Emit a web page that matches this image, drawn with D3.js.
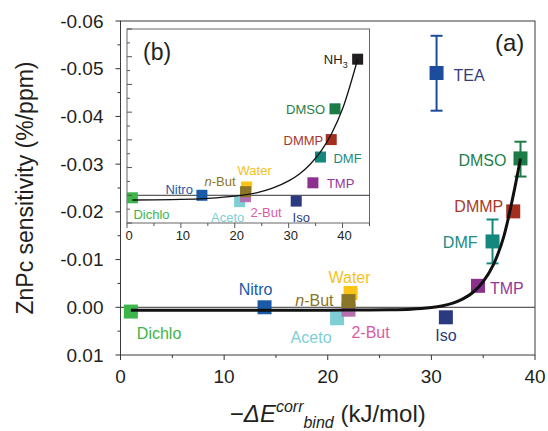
<!DOCTYPE html>
<html lang="en">
  <head>
    <meta charset="UTF-8" />
    <title>ZnPc sensitivity vs binding energy</title>
    <script src="https://d3js.org/d3.v7.min.js"></script>
    <style>
      body {
        margin: 0;
        background: #fff;
        font-family: "Liberation Sans", Arial, sans-serif;
      }
      .frame {
        fill: none;
        stroke: #3a3a3a;
        stroke-width: 1;
      }
      .tick-label {
        fill: #231f20;
      }
    </style>
  </head>
  <body>
    <script>
      // compounds (main panel + inset share these)
      var names = ["Dichlo", "Nitro", "Iso", "TMP", "DMF", "DMMP", "DMSO", "TEA", "Aceto", "2-But", "Water", "n-But"];
      var energy = [1.0, 13.9, 31.4, 34.5, 35.9, 37.9, 38.6, 30.5, 20.9, 22.0, 22.2, 22.0];
      var sensitivity = [0.0009, 0.0, 0.0021, -0.0045, -0.0138, -0.0201, -0.0312, -0.0491, 0.0023, 0.0005, -0.003, -0.0013];
      var markColors = ["#3db54a", "#1b5aa7", "#2b3a80", "#8c308d", "#14887f", "#a3301f", "#1b7d45", "#1d4c9c", "#7ecfd3", "#b370b1", "#fcc414", "#8b7526"];
      var textColors = ["#3db54a", "#1b5aa7", "#2b3a80", "#94379a", "#1a8b85", "#a8392a", "#1f8048", "#333d7a", "#7ecfd3", "#d95ba3", "#f5c21c", "#8b7526"];

      // error bars (lower / upper end)
      var errNames = ["TEA", "DMSO", "DMF"];
      var errLow = [-0.0569, -0.0347, -0.0184];
      var errHigh = [-0.0412, -0.0274, -0.0092];

      // NH3 appears only in the inset
      var nh3Energy = 42.8;
      var nh3Sens = -0.0491;

      // fitted curves
      var fitX = [1, 10, 20, 24, 26, 28, 29, 30, 31, 32, 33, 34, 35, 36, 37, 38, 38.6];
      var fitY = [0.0006, 0.0006, 0.0006, 0.00057, 0.00052, 0.00039, 0.00026, 0.00005, -0.00028, -0.00082, -0.0017, -0.0031, -0.0054, -0.009, -0.0149, -0.0245, -0.0312];
      var insetFitX = [1, 10, 15, 20, 24, 27, 30, 32, 34, 36, 38, 40, 42.8];
      var insetFitY = [0.0017, 0.0015, 0.0011, 0.0003, -0.0009, -0.0026, -0.0052, -0.0077, -0.0112, -0.0159, -0.0224, -0.0312, -0.0491];

      var xTicks = [0, 10, 20, 30, 40];
      var xTickLabels = ["0", "10", "20", "30", "40"];
      var yTicks = [-0.06, -0.05, -0.04, -0.03, -0.02, -0.01, 0, 0.01];
      var yTickLabels = ["-0.06", "-0.05", "-0.04", "-0.03", "-0.02", "-0.01", "0.00", "0.01"];
      var insetXTicks = [0, 10, 20, 30, 40];

      // label placement (offsets from the marker centre)
      var mainLabelPos = {
        Dichlo: [6, 27, "start"],
        Nitro: [-9, -12, "middle"],
        Aceto: [-26, 25, "middle"],
        "2-But": [3, 28, "start"],
        Water: [-1, -10, "middle"],
        "n-But": [-15, 5, "end"],
        Iso: [0, 24, "middle"],
        TMP: [12, 8, "start"],
        DMF: [-15, 7, "end"],
        DMMP: [-10, 1, "end"],
        DMSO: [-14, 8, "end"],
        TEA: [17, 8, "start"],
      };
      var insetLabelPos = {
        Dichlo: [1, 21, "start"],
        Nitro: [-9, -1, "end"],
        Aceto: [-12, 20, "middle"],
        "2-But": [5, 20, "start"],
        Water: [8, -12, "middle"],
        "n-But": [-10, -6, "end"],
        Iso: [5, 21, "middle"],
        TMP: [14, 5, "start"],
        DMF: [13, 6, "start"],
        DMMP: [-8, 5, "end"],
        DMSO: [-10, 5, "end"],
      };

      var width = 548,
        height = 431;

      var svg = d3
        .select("body")
        .append("svg")
        .attr("width", width)
        .attr("height", height);

      var x = d3.scaleLinear().domain([0, 40]).range([120.5, 535]);
      var y = d3.scaleLinear().domain([-0.06, 0.01]).range([21, 355]);

      var ix = d3.scaleLinear().domain([0, 45]).range([127, 369.5]);
      var iy = d3.scaleLinear().domain([-0.06, 0.01]).range([29, 223]);

      var data = names.map(function (n, i) {
        return {
          name: n,
          e: energy[i],
          s: sensitivity[i],
          color: markColors[i],
          text: textColors[i],
        };
      });

      // ---- main panel ----
      svg
        .append("line")
        .attr("x1", x(0))
        .attr("x2", x(40))
        .attr("y1", y(0))
        .attr("y2", y(0))
        .attr("stroke", "#333")
        .attr("stroke-width", 1);

      // error bars
      errNames.forEach(function (n, i) {
        var d = data.find(function (p) {
          return p.name === n;
        });
        var g = svg.append("g").attr("stroke", d.color).attr("stroke-width", 2);
        var cx = x(d.e);
        g.append("line").attr("x1", cx).attr("x2", cx).attr("y1", y(errLow[i])).attr("y2", y(errHigh[i]));
        g.append("line").attr("x1", cx - 6).attr("x2", cx + 6).attr("y1", y(errLow[i])).attr("y2", y(errLow[i]));
        g.append("line").attr("x1", cx - 6).attr("x2", cx + 6).attr("y1", y(errHigh[i])).attr("y2", y(errHigh[i]));
      });

      svg
        .selectAll(".sq")
        .data(data)
        .enter()
        .append("rect")
        .attr("class", "sq")
        .attr("x", function (d) {
          return x(d.e) - 7;
        })
        .attr("y", function (d) {
          return y(d.s) - 7;
        })
        .attr("width", 14)
        .attr("height", 14)
        .attr("fill", function (d) {
          return d.color;
        });

      var line = d3
        .line()
        .x(function (d) {
          return x(d[0]);
        })
        .y(function (d) {
          return y(d[1]);
        })
        .curve(d3.curveMonotoneX);

      svg
        .append("path")
        .attr("d", line(d3.zip(fitX, fitY)))
        .attr("fill", "none")
        .attr("stroke", "#111")
        .attr("stroke-width", 3);

      svg
        .selectAll(".lbl")
        .data(data)
        .enter()
        .append("text")
        .attr("class", "lbl")
        .attr("x", function (d) {
          return x(d.e) + mainLabelPos[d.name][0];
        })
        .attr("y", function (d) {
          return y(d.s) + mainLabelPos[d.name][1];
        })
        .attr("text-anchor", function (d) {
          return mainLabelPos[d.name][2];
        })
        .attr("font-size", 16)
        .attr("fill", function (d) {
          return d.text;
        })
        .each(function (d) {
          var t = d3.select(this);
          if (d.name === "n-But") {
            t.append("tspan").attr("font-style", "italic").text("n");
            t.append("tspan").text("-But");
          } else {
            t.text(d.name);
          }
        });

      // frame
      svg
        .append("rect")
        .attr("class", "frame")
        .attr("x", x(0))
        .attr("y", y(-0.06))
        .attr("width", x(40) - x(0))
        .attr("height", y(0.01) - y(-0.06));

      // y axis, ticks outward
      var yAxis = svg.append("g").attr("transform", "translate(" + x(0) + ",0)");
      yAxis
        .selectAll(".minor")
        .data(d3.range(-0.06, 0.0101, 0.005))
        .enter()
        .append("line")
        .attr("x1", 0)
        .attr("x2", function (d, i) {
          return i % 2 === 0 ? -5 : -3;
        })
        .attr("y1", function (d) {
          return y(d);
        })
        .attr("y2", function (d) {
          return y(d);
        })
        .attr("stroke", "#333");
      yAxis
        .selectAll(".yl")
        .data(yTicks)
        .enter()
        .append("text")
        .attr("class", "tick-label")
        .attr("x", -17)
        .attr("y", function (d) {
          return y(d) + 6.5;
        })
        .attr("text-anchor", "end")
        .attr("font-size", 19)
        .text(function (d, i) {
          return yTickLabels[i];
        });

      // x axis, ticks outward
      var xAxis = svg.append("g").attr("transform", "translate(0," + y(0.01) + ")");
      xAxis
        .selectAll(".minor")
        .data(d3.range(0, 40.1, 5))
        .enter()
        .append("line")
        .attr("y1", 0)
        .attr("y2", function (d, i) {
          return i % 2 === 0 ? 5 : 3;
        })
        .attr("x1", function (d) {
          return x(d);
        })
        .attr("x2", function (d) {
          return x(d);
        })
        .attr("stroke", "#333");
      xAxis
        .selectAll(".xl")
        .data(xTicks)
        .enter()
        .append("text")
        .attr("class", "tick-label")
        .attr("x", function (d) {
          return x(d);
        })
        .attr("y", 28)
        .attr("text-anchor", "middle")
        .attr("font-size", 19)
        .text(function (d, i) {
          return xTickLabels[i];
        });

      // axis titles
      var xt = svg
        .append("text")
        .attr("x", (x(0) + x(40)) / 2)
        .attr("y", 422)
        .attr("text-anchor", "middle")
        .attr("font-size", 24)
        .attr("fill", "#231f20");
      xt.append("tspan").text("\u2212");
      xt.append("tspan").attr("font-style", "italic").text("\u0394E");
      xt.append("tspan").attr("font-style", "italic").attr("font-size", 16).attr("dy", -10).text("corr");
      xt.append("tspan").attr("font-style", "italic").attr("font-size", 16).attr("dy", 16).text("bind");
      xt.append("tspan").attr("dy", -6).text(" (kJ/mol)");

      svg
        .append("text")
        .attr("transform", "translate(33," + (y(-0.06) + y(0.01)) / 2 + ") rotate(-90)")
        .attr("text-anchor", "middle")
        .attr("font-size", 23)
        .attr("fill", "#231f20")
        .text("ZnPc sensitivity (%/ppm)");

      svg
        .append("text")
        .attr("x", 495)
        .attr("y", 51)
        .attr("font-size", 24)
        .attr("fill", "#231f20")
        .text("(a)");

      // ---- inset ----
      var inset = svg.append("g");
      inset
        .append("rect")
        .attr("x", ix(0))
        .attr("y", iy(-0.06))
        .attr("width", ix(45) - ix(0))
        .attr("height", iy(0.01) - iy(-0.06))
        .attr("fill", "#fff")
        .attr("stroke", "#666")
        .attr("stroke-width", 1);

      inset
        .append("line")
        .attr("x1", ix(0))
        .attr("x2", ix(45))
        .attr("y1", iy(0))
        .attr("y2", iy(0))
        .attr("stroke", "#333")
        .attr("stroke-width", 1);

      var insetData = data
        .filter(function (d) {
          return d.name !== "TEA";
        })
        .concat([{ name: "NH3", e: nh3Energy, s: nh3Sens, color: "#231f20", text: "#231f20" }]);

      inset
        .selectAll(".isq")
        .data(insetData)
        .enter()
        .append("rect")
        .attr("x", function (d) {
          return ix(d.e) - 5.5;
        })
        .attr("y", function (d) {
          return iy(d.s) - 5.5;
        })
        .attr("width", 11)
        .attr("height", 11)
        .attr("fill", function (d) {
          return d.color;
        });

      var iline = d3
        .line()
        .x(function (d) {
          return ix(d[0]);
        })
        .y(function (d) {
          return iy(d[1]);
        })
        .curve(d3.curveMonotoneX);

      inset
        .append("path")
        .attr("d", iline(d3.zip(insetFitX, insetFitY)))
        .attr("fill", "none")
        .attr("stroke", "#111")
        .attr("stroke-width", 1.3);

      inset
        .selectAll(".ilbl")
        .data(insetData.filter(function (d) {
          return d.name !== "NH3";
        }))
        .enter()
        .append("text")
        .attr("x", function (d) {
          return ix(d.e) + insetLabelPos[d.name][0];
        })
        .attr("y", function (d) {
          return iy(d.s) + insetLabelPos[d.name][1];
        })
        .attr("text-anchor", function (d) {
          return insetLabelPos[d.name][2];
        })
        .attr("font-size", 13)
        .attr("fill", function (d) {
          return d.text;
        })
        .each(function (d) {
          var t = d3.select(this);
          if (d.name === "n-But") {
            t.append("tspan").attr("font-style", "italic").text("n");
            t.append("tspan").text("-But");
          } else {
            t.text(d.name);
          }
        });

      var nh = inset
        .append("text")
        .attr("x", ix(nh3Energy) - 10)
        .attr("y", iy(nh3Sens) + 5)
        .attr("text-anchor", "end")
        .attr("font-size", 13)
        .attr("fill", "#231f20");
      nh.append("tspan").text("NH");
      nh.append("tspan").attr("font-size", 9).attr("dy", 4).text("3");

      inset
        .append("text")
        .attr("x", 143)
        .attr("y", 60)
        .attr("font-size", 23)
        .attr("fill", "#231f20")
        .text("(b)");

      // inset y ticks (inward)
      inset
        .selectAll(".iyt")
        .data(d3.range(-0.06, 0.0101, 0.005))
        .enter()
        .append("line")
        .attr("x1", ix(0))
        .attr("x2", function (d, i) {
          return ix(0) + (i % 2 === 0 ? 5 : 3);
        })
        .attr("y1", function (d) {
          return iy(d);
        })
        .attr("y2", function (d) {
          return iy(d);
        })
        .attr("stroke", "#555");

      // inset x ticks (outward)
      inset
        .selectAll(".ixt")
        .data(d3.range(0, 45.1, 5))
        .enter()
        .append("line")
        .attr("x1", function (d) {
          return ix(d);
        })
        .attr("x2", function (d) {
          return ix(d);
        })
        .attr("y1", iy(0.01))
        .attr("y2", function (d, i) {
          return iy(0.01) + (i % 2 === 0 ? 5 : 3);
        })
        .attr("stroke", "#555");

      inset
        .selectAll(".ixl")
        .data(insetXTicks)
        .enter()
        .append("text")
        .attr("class", "tick-label")
        .attr("x", function (d) {
          return ix(d) + 2;
        })
        .attr("y", iy(0.01) + 17)
        .attr("text-anchor", "middle")
        .attr("font-size", 13)
        .text(function (d) {
          return d;
        });
    </script>
  </body>
</html>
